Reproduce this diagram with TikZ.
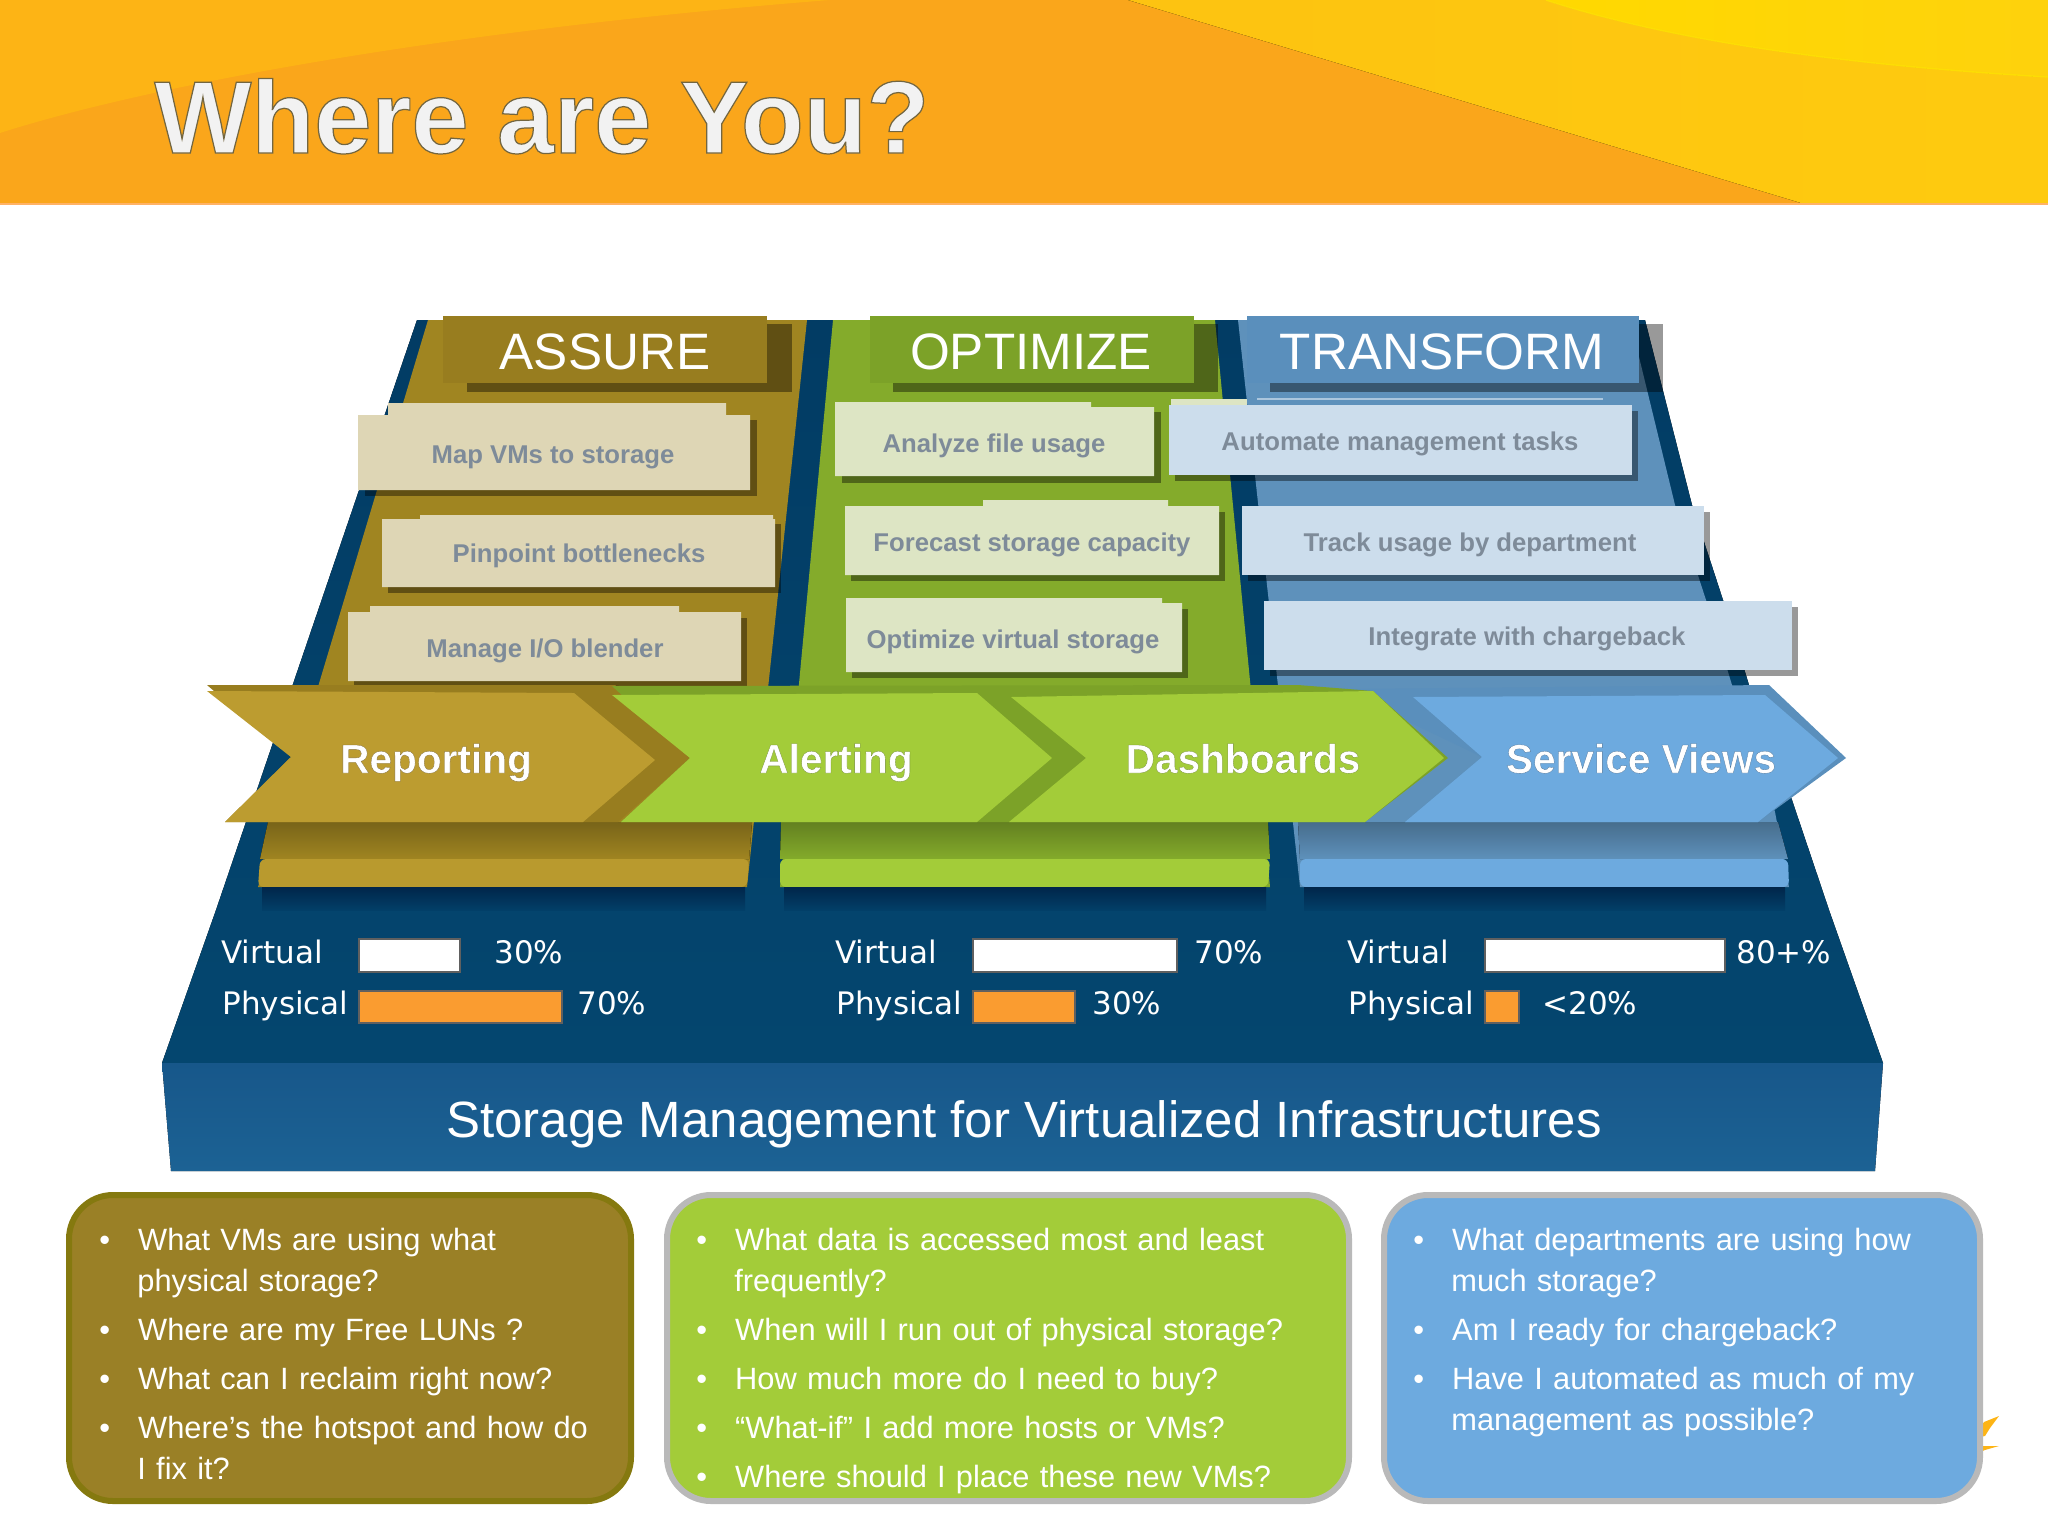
\documentclass[tikz,border=0pt]{standalone}
\usepackage{fontspec}
\setmainfont{Liberation Sans}
\newfontfamily\legendfont{DejaVu Sans}
\newfontfamily\titlefont[FakeBold=1.2]{Liberation Sans Bold}
\newfontfamily\stepfont[FakeBold=0.7]{Liberation Sans Bold}
\usepackage{tikz}
\usetikzlibrary{
	positioning
}

\definecolor{hdrorange}{HTML}{FAA61B}
\definecolor{hdrband}{HTML}{FDB415}
\definecolor{navy}{HTML}{023C64}
\definecolor{navymid}{HTML}{023F68}
\definecolor{navylow}{HTML}{04466F}
\definecolor{navydeep}{HTML}{01264A}
\definecolor{shelftop}{HTML}{17578A}
\definecolor{shelflow}{HTML}{1C6294}
\definecolor{olive}{HTML}{A08521}
\definecolor{olivelip}{HTML}{B99A2E}
\definecolor{olivehead}{HTML}{987D1F}
\definecolor{olivetile}{HTML}{DED6B5}
\definecolor{olivearrow}{HTML}{BC9C30}
\definecolor{olivebox}{HTML}{9A8026}
\definecolor{oliveline}{HTML}{85790F}
\definecolor{leaf}{HTML}{84AB2B}
\definecolor{leaflip}{HTML}{A3CC39}
\definecolor{leafhead}{HTML}{7CA228}
\definecolor{leaftile}{HTML}{DDE5C4}
\definecolor{sky}{HTML}{5E91BB}
\definecolor{skylip}{HTML}{6DAADF}
\definecolor{skyhead}{HTML}{5A8FBC}
\definecolor{skytile}{HTML}{CCDDEC}
\definecolor{tiletext}{HTML}{7E8B99}
\definecolor{barorange}{HTML}{FA9C30}

\newenvironment{qlist}{%
	\begin{list}{\textcolor{white}{\textbullet}}{%
		\setlength{\leftmargin}{19pt}%
		\setlength{\labelwidth}{5pt}%
		\setlength{\labelsep}{14pt}%
		\setlength{\topsep}{0pt}%
		\setlength{\partopsep}{0pt}%
		\setlength{\parsep}{0pt}%
		\setlength{\itemsep}{4pt}%
	}%
}{\end{list}}

\tikzset{
	headtxt/.style={text=white,font=\fontsize{25.6}{30}\selectfont,anchor=base},
	tiletxt/.style={text=tiletext,font=\bfseries\fontsize{12.85}{15}\selectfont,anchor=base},
	steptxt/.style={text=white,font=\stepfont\fontsize{20.3}{24}\selectfont,anchor=base},
	legendtxt/.style={text=white,font=\legendfont\fontsize{15.5}{18}\selectfont,anchor=base west,inner sep=0pt},
	dropped/.style={fill=black,fill opacity=0.4},
	virtbar/.style={fill=white,draw=gray!75!black,line width=0.7pt},
	physbar/.style={fill=barorange,draw=gray!75!black,line width=0.7pt},
	qbox/.style={line width=3pt,rounded corners=22pt},
	qtxt/.style={text=white,anchor=north west,inner sep=0pt,align=left,font=\fontsize{15.4}{20.5}\selectfont}
}

\begin{document}
\begin{tikzpicture}[x=0.5pt,y=-0.5pt]
	\useasboundingbox (0,0) rectangle (2048,1536);

	\fill[hdrorange] (0,0) rectangle (2048,203);
	\fill[hdrband] (0,0) -- (830,0) .. controls (450,30) and (150,85) .. (0,133) -- cycle;
	\fill[left color=hdrband!80!yellow,right color=hdrband!70!yellow] (1128,0) -- (2048,0) -- (2048,203) -- (1801,203) -- cycle;
	\fill[left color=yellow!70!orange,right color=hdrband!60!yellow] (1546,0) .. controls (1700,50) and (1900,68) .. (2048,77) -- (2048,0) -- cycle;
	\draw[yellow!80!orange,line width=0.7pt] (1546,0) .. controls (1700,50) and (1900,68) .. (2048,77);
	\fill[orange!60!white] (0,203) rectangle (2048,205);
	\node[anchor=base west,inner sep=0pt,text=black!5!white,font=\titlefont\fontsize{51.4}{60}\selectfont] (title) at (154,153) {\special{pdf:code 0.45 0.4 0.25 RG}Where are You?};

	\fill[top color=navy,bottom color=navylow] (417,320) -- (1645,320) -- (1692,505) -- (1723,600) -- (1749,685) -- (1792,800) -- (1829,910) -- (1883,1063) -- (162,1063) -- (216,910) -- cycle;
	\fill[olive] (428,320) -- (807,320) -- (747,887) -- (258,887) -- cycle;
	\fill[leaf] (833,320) -- (1215,320) -- (1270,887) -- (780,887) -- cycle;
	\fill[sky] (1238,320) -- (1630,320) -- (1675,505) -- (1706,600) -- (1732,685) -- (1775,812) -- (1789,887) -- (1300,887) -- cycle;

	\fill[top color=olive!75!black,bottom color=olive] (268,822) -- (752,822) -- (749,859) -- (260,859) -- cycle;
	\fill[top color=leaf!75!black,bottom color=leaf] (781,822) -- (1268,822) -- (1270,859) -- (780,859) -- cycle;
	\fill[top color=sky!75!black,bottom color=sky] (1298,822) -- (1778,822) -- (1788,859) -- (1300,859) -- cycle;
	\fill[olivelip,rounded corners=3pt] (260,859) -- (749,859) -- (747,887) -- (258,887) -- cycle;
	\fill[leaflip,rounded corners=3pt] (780,859) -- (1270,859) -- (1268,887) -- (780,887) -- cycle;
	\fill[skylip,rounded corners=3pt] (1300,859) -- (1788,859) -- (1789,887) -- (1300,887) -- cycle;
	\fill[top color=navydeep,bottom color=navymid] (262,887) rectangle (745,910);
	\fill[top color=navydeep,bottom color=navymid] (784,887) rectangle (1266,910);
	\fill[top color=navydeep,bottom color=navymid] (1304,887) rectangle (1785,910);

	\fill[dropped] (467,324) rectangle (792,392);
	\fill[dropped] (893,324) rectangle (1218,392);
	\fill[dropped] (1270,324) rectangle (1663,392);
	\fill[olivehead] (443,316) rectangle (767,383);
	\fill[leafhead] (870,316) rectangle (1194,383);
	\fill[skyhead] (1247,316) rectangle (1639,383);
	\node[headtxt] (assure) at (605,369) {ASSURE};
	\node[headtxt] (optimize) at (1031,369) {OPTIMIZE};
	\node[headtxt] (transform) at (1442,369) {TRANSFORM};
	\fill[skytile!70!sky] (1257,398) rectangle (1603,400);

	\fill[dropped] (365,420) rectangle (757,496);
	\fill[olivetile] (358,415) rectangle (750,490) (388,403) rectangle (726,415);
	\node[tiletxt] (mapvms) at (553,463) {Map VMs to storage};
	\fill[dropped] (388,524) rectangle (781,593);
	\fill[olivetile] (382,519) rectangle (775,587) (420,515) rectangle (773,519);
	\node[tiletxt] (pinpoint) at (579,562) {Pinpoint bottlenecks};
	\fill[dropped] (354,618) rectangle (747,687);
	\fill[olivetile] (348,612) rectangle (741,681) (370,606) rectangle (679,612);
	\node[tiletxt] (blender) at (545,657) {Manage I/O blender};

	\fill[dropped] (842,412) rectangle (1161,483);
	\fill[leaftile] (835,407) rectangle (1154,476) (835,402) rectangle (1091,407);
	\node[tiletxt] (fileuse) at (994,452) {Analyze file usage};
	\fill[dropped] (851,512) rectangle (1225,581);
	\fill[leaftile] (845,506) rectangle (1219,575) (983,500) rectangle (1168,506);
	\node[tiletxt] (forecast) at (1032,551) {Forecast storage capacity};
	\fill[dropped] (852,609) rectangle (1188,678);
	\fill[leaftile] (846,603) rectangle (1182,672) (846,598) rectangle (1162,603);
	\node[tiletxt] (virtstore) at (1013,648) {Optimize virtual storage};

	\fill[dropped] (1175,411) rectangle (1638,481);
	\fill[skytile] (1169,405) rectangle (1632,475);
	\fill[leaftile] (1171,399) rectangle (1247,405);
	\node[tiletxt] (automate) at (1400,450) {Automate management tasks};
	\fill[dropped] (1248,512) rectangle (1710,581);
	\fill[skytile] (1242,506) rectangle (1704,575);
	\node[tiletxt] (track) at (1470,551) {Track usage by department};
	\fill[dropped] (1270,607) rectangle (1798,676);
	\fill[skytile] (1264,601) rectangle (1792,670);
	\node[tiletxt] (charge) at (1527,645) {Integrate with chargeback};

	\fill[skyhead] (1340,689) -- (1769,685) -- (1846,758) -- (1758,822) -- (1405,822) -- (1482,757) -- cycle;
	\fill[skylip] (1413,697) -- (1765,695) -- (1838,758) -- (1758,822) -- (1405,822) -- (1482,757) -- cycle;
	\fill[olivehead] (207,685) -- (615,685) -- (690,758) -- (618,822) -- (225,822) -- (291,757) -- cycle;
	\fill[olivearrow] (207,691) -- (574,693) -- (655,760) -- (583,822) -- (225,822) -- (291,757) -- cycle;
	\fill[leafhead] (612,686) -- (1298,685) -- (1373,691) -- (1448,758) -- (1365,822) -- (621,822) -- (690,758) -- cycle;
	\fill[leaflip] (612,695) -- (977,693) -- (1052,758) -- (977,822) -- (621,822) -- (690,758) -- cycle;
	\fill[leaflip] (1011,697) -- (1373,691) -- (1444,758) -- (1365,822) -- (1009,822) -- (1086,758) -- cycle;
	\node[steptxt] (reporting) at (436,773) {\special{pdf:code 0.5 0.42 0.2 RG}Reporting};
	\node[steptxt] (alerting) at (836,773) {\special{pdf:code 0.45 0.55 0.2 RG}Alerting};
	\node[steptxt] (dashboards) at (1243,773) {\special{pdf:code 0.45 0.55 0.2 RG}Dashboards};
	\node[steptxt] (service) at (1641,773) {\special{pdf:code 0.3 0.45 0.6 RG}Service Views};

	\draw[virtbar] (359,939) rectangle (460,972);
	\draw[physbar] (359,991) rectangle (562,1023);
	\draw[virtbar] (973,939) rectangle (1177,972);
	\draw[physbar] (973,991) rectangle (1075,1023);
	\draw[virtbar] (1485,939) rectangle (1725,972);
	\draw[physbar] (1485,991) rectangle (1519,1023);
	\node[legendtxt] (virtA) at (221,963) {Virtual};
	\node[legendtxt] (physA) at (222,1014) {Physical};
	\node[legendtxt] (valA) at (494,963) {30\%};
	\node[legendtxt] (valB) at (577,1014) {70\%};
	\node[legendtxt] (virtB) at (835,963) {Virtual};
	\node[legendtxt] (physB) at (836,1014) {Physical};
	\node[legendtxt] (valC) at (1194,963) {70\%};
	\node[legendtxt] (valD) at (1092,1014) {30\%};
	\node[legendtxt] (virtC) at (1347,963) {Virtual};
	\node[legendtxt] (physC) at (1348,1014) {Physical};
	\node[legendtxt] (valE) at (1736,963) {80+\%};
	\node[legendtxt] (valF) at (1542,1014) {<20\%};

	\fill[top color=shelftop,bottom color=shelflow] (162,1063) -- (1883,1063) -- (1875,1171) -- (171,1171) -- cycle;
	\node[text=white,anchor=base,inner sep=0pt,font=\fontsize{25.5}{30}\selectfont] (storage) at (1024,1137) {Storage Management for Virtualized Infrastructures};

	\fill[hdrband] (1980,1428) -- (1984,1422) -- (1999,1416) -- (1990,1428) -- (1985,1436) -- (1980,1437) -- cycle;
	\fill[hdrband] (1980,1446) -- (1999,1446) -- (1985,1450) -- (1980,1452) -- cycle;

	\draw[qbox,fill=olivebox,draw=oliveline] (69,1195) rectangle (631,1501);
	\draw[qbox,fill=leaflip,draw=gray!55] (667,1195) rectangle (1349,1501);
	\draw[qbox,fill=skylip,draw=gray!55] (1384,1195) rectangle (1980,1501);

	\node[qtxt,text width=262pt] (qassure) at (99,1209) {\begin{qlist}
		\item What VMs are using what\newline physical storage?
		\item Where are my Free LUNs ?
		\item What can I reclaim right now?
		\item Where’s the hotspot and how do\newline I fix it?
	\end{qlist}};
	\node[qtxt,text width=310pt] (qoptimize) at (696,1209) {\begin{qlist}
		\item What data is accessed most and least\newline frequently?
		\item When will I run out of physical storage?
		\item How much more do I need to buy?
		\item “What-if” I add more hosts or VMs?
		\item Where should I place these new VMs?
	\end{qlist}};
	\node[qtxt,text width=280pt] (qtransform) at (1413,1209) {\begin{qlist}
		\item What departments are using how\newline much storage?
		\item Am I ready for chargeback?
		\item Have I automated as much of my\newline management as possible?
	\end{qlist}};
\end{tikzpicture}
\end{document}
